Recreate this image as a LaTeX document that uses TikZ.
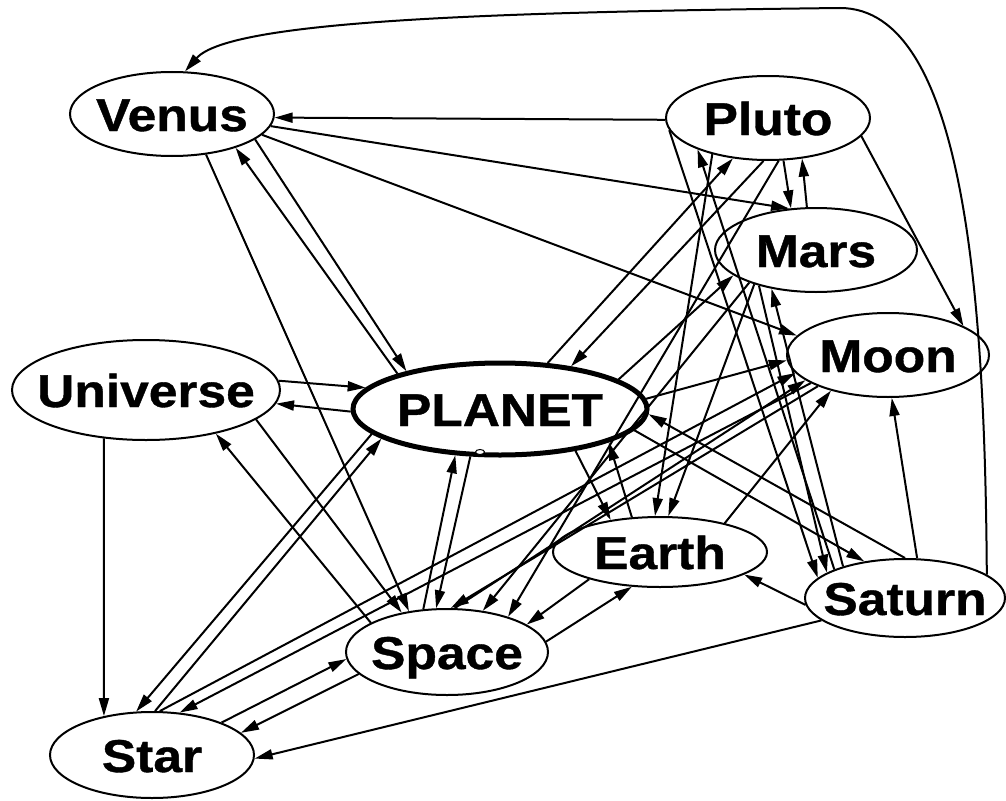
\documentclass[tikz,border=0pt]{standalone}
\usepackage{fontspec}
\setmainfont{Liberation Sans}[BoldFeatures={FakeBold=0.8}]
\usetikzlibrary{arrows.meta,shapes.geometric}
\newcommand{\nodetxt}[1]{\makebox[0pt]{\scalebox{1.12}[1]{#1}}}
\begin{document}
\begin{tikzpicture}[x=1pt,y=-1pt,
  nd/.style={ellipse,draw,line width=2pt,inner sep=0pt,fill=none,
    text height=34pt,text depth=0pt,
    font=\fontsize{46}{50}\selectfont\bfseries},
  edg/.style={line width=2pt,-{Triangle[length=18pt,width=10pt]}}]
\useasboundingbox (0,0) rectangle (1006,800);
% nodes
\node[nd,minimum width=204pt,minimum height=84pt] (Ve) at (172,114) {\nodetxt{Venus}};
\node[nd,minimum width=204pt,minimum height=84pt] (Pl) at (768,118) {\nodetxt{Pluto}};
\node[nd,minimum width=202pt,minimum height=84pt] (Ma) at (816,250) {\nodetxt{Mars}};
\node[nd,minimum width=202pt,minimum height=84pt] (Mo) at (888,355) {\nodetxt{Moon}};
\node[nd,minimum width=268pt,minimum height=100pt] (Un) at (146,390) {\nodetxt{Universe}};
\node[nd,line width=5pt,minimum width=294pt,minimum height=92pt] (PN) at (500,409) {\nodetxt{PLANET}};
\node[nd,minimum width=214pt,minimum height=70pt] (Ea) at (660,552) {\nodetxt{Earth}};
\node[nd,minimum width=200pt,minimum height=78pt] (Sa) at (905,598) {\nodetxt{Saturn}};
\node[nd,minimum width=202pt,minimum height=86pt] (Sp) at (447,652) {\nodetxt{Space}};
\node[nd,minimum width=204pt,minimum height=86pt] (St) at (152,755) {\nodetxt{Star}};
\node[ellipse,draw,fill=white,line width=1pt,inner sep=0pt,minimum width=9pt,minimum height=5pt] (dot) at (480,452) {};
% curved edge
\draw[edg] (Sa.16) .. controls (985,300) and (965,8) .. (840,8)
  .. controls (500,12) and (230,20) .. (Ve.73);
% edges
\draw[edg] (Pl.181) -- (Ve.358);
\draw[edg] (Ve.353) -- (Ma.123);
\draw[edg] (Ve.347) -- (Mo.168);
\draw[edg] (Ve.343) -- (PN.158);
\draw[edg] (PN.161) -- (Ve.332);
\draw[edg] (Ve.310) -- (Sp.133);
\draw[edg] (Un.4) -- (PN.171);
\draw[edg] (PN.181) -- (Un.354);
\draw[edg] (Un.229) -- (St.141);
\draw[edg] (Un.345) -- (Sp.139);
\draw[edg] (Sp.159) -- (Un.328);
\draw[edg] (PN.191) -- (St.110);
\draw[edg] (St.86) -- (PN.194);
\draw[edg] (St.80) -- (Mo.191);
\draw[edg] (Mo.200) -- (St.57);
\draw[edg] (St.25) -- (Sp.184);
\draw[edg] (Sp.194) -- (St.14);
\draw[edg] (Sa.195) -- (St.358);
\draw[edg] (Sp.119) -- (PN.226);
\draw[edg] (PN.238) -- (Sp.104);
\draw[edg] (Sp.6) -- (Ea.231);
\draw[edg] (Ea.201) -- (Sp.19);
\draw[edg] (PN.44) -- (Pl.229);
\draw[edg] (Pl.264) -- (PN.31);
\draw[edg] (PN.14) -- (Ma.197);
\draw[edg] (Pl.187) -- (Sa.167);
\draw[edg] (Sa.158) -- (Pl.204);
\draw[edg] (Pl.213) -- (Ea.98);
\draw[edg] (Pl.290) -- (Ma.121);
\draw[edg] (Ma.102) -- (Pl.310);
\draw[edg] (Pl.349) -- (Mo.21);
\draw[edg] (Pl.284) -- (Sp.30);
\draw[edg] (Ma.206) -- (Sp.49);
\draw[edg] (Ma.209) -- (Ea.77);
\draw[edg] (Sa.153) -- (Ma.221);
\draw[edg] (Ma.212) -- (Sa.162);
\draw[edg] (PN.4) -- (Mo.183);
\draw[edg] (Ea.24) -- (Mo.212);
\draw[edg] (Sa.73) -- (Mo.275);
\draw[edg] (PN.331) -- (Ea.147);
\draw[edg] (Ea.129) -- (PN.343);
\draw[edg] (PN.351) -- (Sa.138);
\draw[edg] (Sa.90) -- (PN.358);
\draw[edg] (Sa.184) -- (Ea.345);
\draw[edg] (Mo.204) -- (Sp.85);
\draw[edg] (Sp.80) -- (Mo.197);
\end{tikzpicture}
\end{document}
